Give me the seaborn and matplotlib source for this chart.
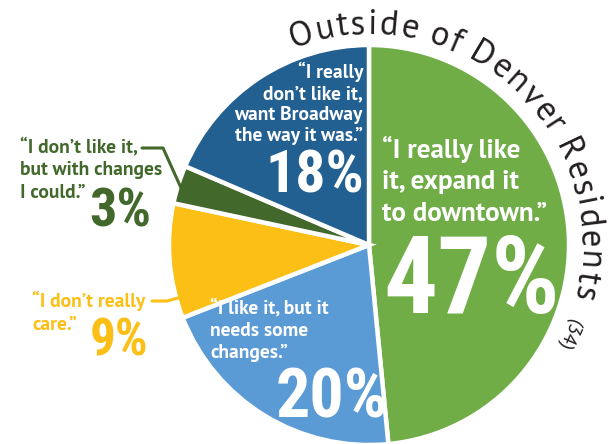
import numpy as np
import matplotlib
matplotlib.use("Agg")
import matplotlib.pyplot as plt
from matplotlib import font_manager as fm
import seaborn as sns

# Survey responses, clockwise from 12 o'clock
responses = [
    "I really like it, expand it to downtown.",
    "I like it, but it needs some changes.",
    "I don't really care.",
    "I don't like it, but with changes I could.",
    "I really don't like it, want Broadway the way it was.",
]
shares = [47, 20, 9, 3, 18]  # percent of respondents
slice_colors = ["#70AD47", "#5B9BD5", "#FBBF16", "#43682B", "#236092"]
quote_lines = [
    ["\u201cI really like", "it, expand it", "to downtown.\u201d"],
    ["\u201cI like it, but it", "needs some", "changes.\u201d"],
    ["\u201cI don\u2019t really", "care.\u201d"],
    ["\u201cI don\u2019t like it,", "but with changes", "I could.\u201d"],
    ["\u201cI really", "don\u2019t like it,", "want Broadway", "the way it was.\u201d"],
]
group_name = "Outside of Denver Residents"
sample_size = 34

sns.set_theme(style="white")
palette = sns.color_palette(slice_colors)


def _w(w):
    return fm.weight_dict.get(w, 400) if isinstance(w, str) else int(w)


faces = {}
for f in fm.fontManager.ttflist:
    if f.style == "normal":
        faces.setdefault(f.name, set()).add(_w(f.weight))


def pick(names, lo, hi):
    # first family that has an upright face with weight in [lo, hi]
    for n in names:
        if any(lo <= w <= hi for w in faces.get(n, ())):
            return [n, "DejaVu Sans"]
    return ["DejaVu Sans"]


SANS = ["Source Sans 3", "Source Sans Pro", "PT Sans", "Lato", "Open Sans"]
TITLE_FONT = pick(SANS, 380, 450)
QUOTE_FONT = pick(SANS, 650, 750)
PCT_FONT = pick(["Roboto Condensed", "PT Sans Narrow", "Open Sans Condensed",
                 "Liberation Sans Narrow", "Lato"], 650, 750)

W, H = 613, 444
fig = plt.figure(figsize=(W / 100, H / 100), dpi=100)
ax = fig.add_axes([0, 0, 1, 1])


def Y(y):
    # pixel row (from the top) -> data y
    return H - y


cx, cy, R = 369, Y(245), 200
wedges, _ = ax.pie(shares, colors=palette, startangle=90, counterclock=False,
                   center=(cx, cy), radius=R,
                   wedgeprops=dict(edgecolor="white", linewidth=3.2))
ax.set_xlim(0, W)
ax.set_ylim(0, H)
ax.set_aspect("equal")
ax.axis("off")

# label layout per slice: quote x, first baseline, line step, align, size, colour,
# percent centre x, percent baseline, percent size
layout = [
    dict(qx=382, qy=158, step=31.5, ha="left", qs=19.5, color="white", px=472, py=313, ps=77),
    dict(qx=210, qy=313, step=22.5, ha="left", qs=14, color="white", px=332, py=417, ps=49),
    dict(qx=32, qy=307, step=23, ha="left", qs=14, color=slice_colors[2], px=119, py=355, ps=37),
    dict(qx=20, qy=152, step=23, ha="left", qs=14, color=slice_colors[3], px=120, py=227, ps=39),
    dict(qx=363, qy=78, step=21, ha="right", qs=14, color="white", px=315, py=193, ps=43),
]

for share, lines, lay in zip(shares, quote_lines, layout):
    for i, line in enumerate(lines):
        ax.text(lay["qx"], Y(lay["qy"] + i * lay["step"]), line, ha=lay["ha"],
                va="baseline", fontsize=lay["qs"], fontweight="bold",
                family=QUOTE_FONT, color=lay["color"])
    ax.text(lay["px"], Y(lay["py"]), f"{share}%", ha="center", va="baseline",
            fontsize=lay["ps"], fontweight="bold", family=PCT_FONT,
            color=lay["color"])

# leader lines for the two small slices
dg = wedges[3]
mid = np.deg2rad((dg.theta1 + dg.theta2) / 2 + 3)
ex, ey = cx + 0.95 * R * np.cos(mid), cy + 0.95 * R * np.sin(mid)
ax.plot([142, 163, ex], [Y(148), Y(148), ey], color=slice_colors[3], lw=2.2,
        solid_capstyle="round", solid_joinstyle="round")
ax.plot([152, 167, 178], [Y(301), Y(301), Y(298)], color=slice_colors[2], lw=2.2,
        solid_capstyle="round", solid_joinstyle="round")

# group name set along the rim
fig.canvas.draw()
renderer = fig.canvas.get_renderer()
title_size = 25
em = title_size * 100 / 72


def ink_width(ch):
    t = ax.text(0, 0, ch, fontsize=title_size, family=TITLE_FONT)
    w = t.get_window_extent(renderer).width
    t.remove()
    return w


widths = [ink_width(c) if c != " " else 0.22 * em for c in group_name]
start_deg, end_deg = -17.8, 102.5
r_adv, r_base = 218, 211
gaps = len(group_name) - 1
half_sum = sum((widths[i] + widths[i + 1]) / 2 for i in range(gaps))
track = (r_adv * np.deg2rad(end_deg - start_deg) - half_sum) / gaps
theta = np.deg2rad(start_deg)
for i, ch in enumerate(group_name):
    if i > 0:
        theta += ((widths[i - 1] + widths[i]) / 2 + track) / r_adv
    if ch == " ":
        continue
    ax.text(cx + r_base * np.sin(theta), cy + r_base * np.cos(theta), ch,
            rotation=-np.rad2deg(theta), rotation_mode="anchor",
            ha="center", va="baseline", fontsize=title_size,
            family=TITLE_FONT, color="#231F20")

n_theta = np.deg2rad(114)
ax.text(cx + 214 * np.sin(n_theta), cy + 214 * np.cos(n_theta), f"({sample_size})",
        rotation=-114, rotation_mode="anchor", ha="center", va="baseline",
        fontsize=14, family=TITLE_FONT, color="#231F20")

fig.savefig("out.png", dpi=100)
